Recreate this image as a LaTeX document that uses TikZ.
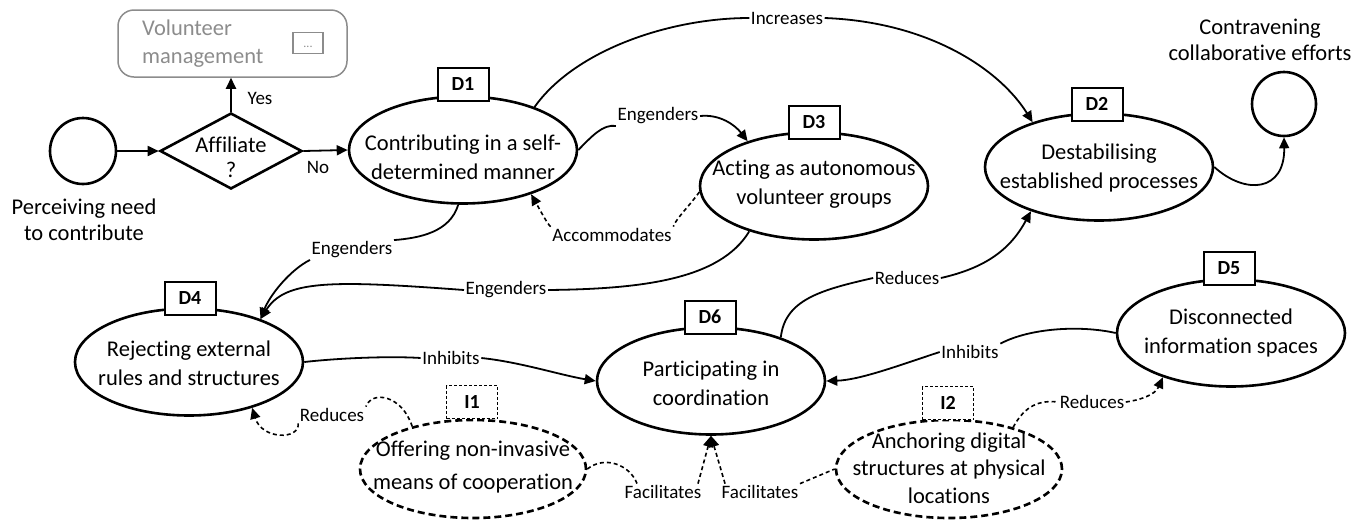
\documentclass[tikz,border=0pt]{standalone}
\usepackage{fontspec}
\setmainfont{Carlito}[Ligatures={NoCommon}]
\usetikzlibrary{arrows.meta,shapes.geometric}
\definecolor{volgray}{RGB}{140,140,140}
\begin{document}
\begin{tikzpicture}[x=1pt,y=-1pt,
  txt/.style={font=\fontsize{22.5}{29}\selectfont, align=center, inner sep=0pt},
  lab/.style={font=\fontsize{19}{21}\selectfont, inner sep=1.5pt},
  ell/.style={draw, ellipse, line width=2.6pt, minimum width=228pt, minimum height=107pt, inner sep=0pt},
  iell/.style={draw, ellipse, line width=2.6pt, dash pattern=on 7pt off 4pt, minimum width=226pt, minimum height=98pt, inner sep=0pt},
  dbox/.style={draw, fill=white, line width=2pt, minimum width=51pt, minimum height=33pt, inner sep=0pt, font=\fontsize{20}{22}\selectfont\bfseries},
  ibox/.style={dbox, line width=1.5pt, dash pattern=on 3pt off 2pt},
  con/.style={line width=1.8pt},
  arr/.style={con, -{Triangle[length=11pt,width=10pt]}},
  dcon/.style={line width=1.6pt, dash pattern=on 4pt off 3pt},
  darr/.style={dcon, -{Triangle[length=11pt,width=10pt]}},
]
\useasboundingbox (0,0) rectangle (1368,523);

% start / decision / volunteer management
\node[draw, circle, line width=2.6pt, minimum size=66pt, inner sep=0pt] (start) at (83,151) {};
\node[txt, font=\fontsize{22.5}{26}\selectfont] (starttxt) at (84,220) {Perceiving need\\to contribute};
\node[draw, diamond, line width=2.6pt, minimum width=142pt, minimum height=76pt, inner sep=0pt] (dia) at (231,151) {};
\node[txt, font=\fontsize{22.5}{25}\selectfont] (diatxt) at (231,157) {Affiliate\\?};
\node[draw=volgray, rounded corners=16pt, line width=1.5pt, minimum width=229pt, minimum height=67pt, inner sep=0pt] (vol) at (232.5,43.5) {};
\node[txt, text=volgray, align=left, anchor=west, font=\fontsize{22.5}{28}\selectfont] (voltxt) at (142,44) {Volunteer\\management};
\node[draw=volgray, line width=1.2pt, minimum width=30pt, minimum height=21pt, inner sep=0pt] (dots) at (308,43) {};
\node[text=volgray, font=\fontsize{12}{12}\selectfont, inner sep=0pt] (dotstxt) at (308,47) {...};

% end
\node[draw, circle, line width=2.6pt, minimum size=64pt, inner sep=0pt] (endc) at (1284,104) {};
\node[txt, font=\fontsize{22.5}{26}\selectfont] (endtxt) at (1260,40) {Contravening\\collaborative efforts};

% ellipses
\node[ell] (D1) at (463,150) {};
\node[ell] (D3) at (814,186) {};
\node[ell] (D2) at (1099,167) {};
\node[ell] (D4) at (189,362) {};
\node[ell] (D6) at (711,381) {};
\node[ell] (D5) at (1231,333) {};
\node[iell] (I1) at (473,469) {};
\node[iell] (I2) at (949,469) {};

\node[txt] (D1t) at (463,157) {Contributing in a self-\\determined manner};
\node[txt] (D3t) at (814,184) {Acting as autonomous\\volunteer groups};
\node[txt] (D2t) at (1099,168) {Destabilising\\established processes};
\node[txt] (D4t) at (189,363) {Rejecting external\\rules and structures};
\node[txt] (D6t) at (711,383) {Participating in\\coordination};
\node[txt] (D5t) at (1231,333) {Disconnected\\information spaces};
\node[txt, font=\fontsize{22.5}{33}\selectfont] (I1t) at (473,467) {Offering non-invasive\\means of cooperation};
\node[txt, font=\fontsize{22.5}{27.5}\selectfont] (I2t) at (949,468) {Anchoring digital\\structures at physical\\locations};

% boxes
\node[dbox] (b1) at (463,84) {D1};
\node[dbox] (b3) at (814,122) {D3};
\node[dbox] (b2) at (1097,104) {D2};
\node[dbox] (b4) at (190,298) {D4};
\node[dbox] (b6) at (710,317) {D6};
\node[dbox] (b5) at (1229,268) {D5};
\node[ibox] (bi1) at (472,402) {I1};
\node[ibox] (bi2) at (948,403) {I2};

% labels
\node[lab] (yes) at (260,98) {Yes};
\node[lab] (no) at (318,167) {No};
\node[lab] (incr) at (787,18) {Increases};
\node[lab] (eng1) at (658,116) {Engenders};
\node[lab] (acc) at (612,235) {Accommodates};
\node[lab] (eng2) at (352,250) {Engenders};
\node[lab] (eng3) at (506,290) {Engenders};
\node[lab] (inh1) at (451,358) {Inhibits};
\node[lab] (inh2) at (970,352) {Inhibits};
\node[lab] (red1) at (907,278) {Reduces};
\node[lab] (red2) at (332,415) {Reduces};
\node[lab] (red3) at (1092,402) {Reduces};
\node[lab] (fac1) at (663,492) {Facilitates};
\node[lab] (fac2) at (760,492) {Facilitates};

% connectors
\draw[arr] (start.east) -- (dia.west);
\draw[arr] (dia.north) -- (dia.north |- vol.south);
\draw[arr] (dia.east) -- (D1.west);

\draw[con] (D1.31) .. controls (575,50) and (670,18) .. (incr.west);
\draw[arr] (incr.east) .. controls (930,22) and (1000,70) .. (D2.146);

\draw[con] (D1.east) .. controls (592,136) and (603,124) .. (eng1.south west);
\draw[arr] (eng1.east) .. controls (720,114) and (735,125) .. (D3.146);

\draw[dcon] (D3.183) .. controls (690,205) and (675,220) .. (acc.north east);
\draw[darr] (acc.north west) .. controls (548,225) and (540,210) .. (D1.327);

\draw[con] (D1.265) .. controls (450,232) and (420,238) .. (eng2.north east);
\draw[arr] (eng2.south west) .. controls (290,270) and (270,295) .. (D4.31);

\draw[con] (D3.215) .. controls (720,280) and (640,289) .. (eng3.east);
\draw[arr] (eng3.west) .. controls (330,280) and (285,280) .. (D4.31);

\draw[con] (D4.east) .. controls (340,358) and (390,356) .. (inh1.west);
\draw[arr] (inh1.east) .. controls (520,362) and (560,375) .. (D6.west);

\draw[con] (D5.west) .. controls (1080,325) and (1030,328) .. (inh2.north east);
\draw[arr] (inh2.west) .. controls (900,365) and (860,380) .. (D6.east);

\draw[con] (D6.32) .. controls (785,300) and (820,290) .. (red1.west);
\draw[arr] (red1.east) .. controls (985,268) and (1010,250) .. (D2.213);

\draw[arr] (D2.east) .. controls (1245,195) and (1285,192) .. (endc.south);

\draw[dcon] (I1.145) .. controls (402,395) and (372,390) .. (red2.north east);
\draw[darr] (red2.south west) .. controls (300,440) and (262,440) .. (D4.324);

\draw[dcon] (I1.east) .. controls (605,455) and (630,465) .. ([xshift=14pt]fac1.north west);
\draw[darr] ([xshift=-5pt]fac1.north east) -- (D6.south);
\draw[darr] ([xshift=5pt]fac2.north west) -- (D6.south);
\draw[dcon] (fac2.north east) -- (I2.west);

\draw[dcon] (I2.33) .. controls (1025,405) and (1040,400) .. (red3.west);
\draw[darr] (red3.east) .. controls (1140,400) and (1155,395) .. (D5.213);
\end{tikzpicture}
\end{document}
